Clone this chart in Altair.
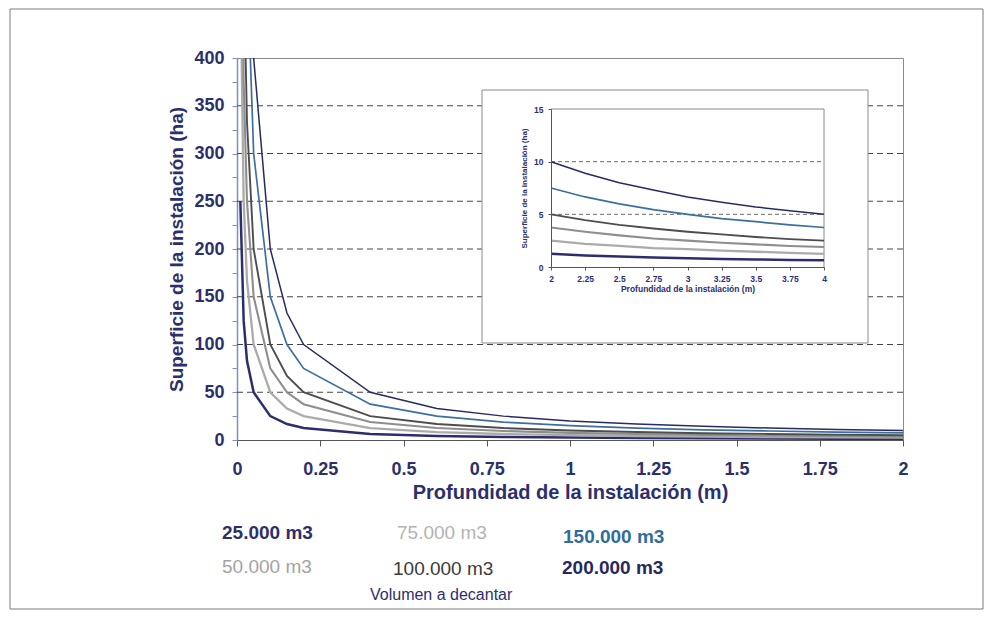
import altair as alt
import pandas as pd

FONT = "Liberation Sans"
NAVY = "#2c2f6e"

# ---------------- data ----------------
volumes = ["25.000 m3", "50.000 m3", "75.000 m3", "100.000 m3", "150.000 m3", "200.000 m3"]

depth_main = [0.01, 0.02, 0.03, 0.05, 0.1, 0.15, 0.2, 0.4, 0.6, 0.8, 1.0, 1.2, 1.4, 1.6, 1.8, 2.0]
area_main_25 = [250, 125, 83, 50, 25, 16.7, 12.5, 6.3, 4.2, 3.1, 2.5, 2.1, 1.8, 1.6, 1.4, 1.3]
area_main_50 = [500, 250, 167, 100, 50, 33, 25, 12.5, 8.3, 6.3, 5, 4.2, 3.6, 3.1, 2.8, 2.5]
area_main_75 = [750, 375, 250, 150, 75, 50, 37.5, 18.8, 12.5, 9.4, 7.5, 6.3, 5.4, 4.7, 4.2, 3.8]
area_main_100 = [1000, 500, 333, 200, 100, 67, 50, 25, 16.7, 12.5, 10, 8.3, 7.1, 6.3, 5.6, 5]
area_main_150 = [1500, 750, 500, 300, 150, 100, 75, 37.5, 25, 18.8, 15, 12.5, 10.7, 9.4, 8.3, 7.5]
area_main_200 = [2000, 1000, 667, 400, 200, 133, 100, 50, 33, 25, 20, 16.7, 14.3, 12.5, 11.1, 10]

depth_inset = [2, 2.25, 2.5, 2.75, 3, 3.25, 3.5, 3.75, 4]
area_inset_25 = [1.25, 1.1, 1.0, 0.9, 0.83, 0.77, 0.71, 0.67, 0.63]
area_inset_50 = [2.5, 2.2, 2.0, 1.8, 1.7, 1.55, 1.45, 1.35, 1.25]
area_inset_75 = [3.75, 3.35, 3.0, 2.7, 2.5, 2.3, 2.15, 2.0, 1.9]
area_inset_100 = [5.0, 4.45, 4.0, 3.65, 3.35, 3.1, 2.85, 2.65, 2.5]
area_inset_150 = [7.5, 6.65, 6.0, 5.45, 5.0, 4.6, 4.3, 4.0, 3.75]
area_inset_200 = [10.0, 8.9, 8.0, 7.3, 6.65, 6.15, 5.7, 5.35, 5.0]

main_grid = [50, 100, 150, 200, 250, 300, 350]
inset_grid = [5, 10]

x_ticks_main = [0, 0.25, 0.5, 0.75, 1, 1.25, 1.5, 1.75, 2]
y_ticks_main = list(range(0, 401, 25))
y_ticks_inset = [0, 5, 10, 15]

legend_title = "Volumen a decantar"
x_title = "Profundidad de la instalación (m)"
y_title = "Superficie de la instalación (ha)"

# ---------------- styles ----------------
line_colors = ["#2b2e6e", "#ababab", "#8e8e8e", "#4d4d4d", "#3b6fa0", "#282b63"]
line_widths = [2.5, 1.5, 1.5, 1.5, 2.4, 2.5]
legend_colors = ["#2c2f6b", "#a3a3a3", "#b3b3b3", "#3a3a3a", "#2f6d9e", "#27295e"]
legend_weights = ["bold", "normal", "normal", "normal", "bold", "bold"]
legend_pos = [(-15, 475), (-15, 509), (160, 475), (156, 511), (326, 479), (325, 510)]

main_series = [area_main_25, area_main_50, area_main_75, area_main_100, area_main_150, area_main_200]
inset_series = [area_inset_25, area_inset_50, area_inset_75, area_inset_100, area_inset_150, area_inset_200]

rows = []
for v, s in zip(volumes, main_series):
    for d, a in zip(depth_main, s):
        rows.append({"vol": v, "depth": d, "area": a})
df_main = pd.DataFrame(rows)

rows = []
for v, s in zip(volumes, inset_series):
    for d, a in zip(depth_inset, s):
        rows.append({"vol": v, "depth": d, "area": a})
df_inset = pd.DataFrame(rows)

W, H = 666, 382

color_scale = alt.Scale(domain=volumes, range=line_colors)
width_scale = alt.Scale(domain=volumes, range=line_widths)

x_main = alt.Scale(domain=[0, 2], nice=False, zero=False)
y_main = alt.Scale(domain=[0, 400], nice=False)

x_main_axis = alt.Axis(orient="bottom", values=x_ticks_main, labelExpr="'' + datum.value", grid=False,
                       labelFlush=False, labelOverlap=False,
                       labelFont=FONT, labelFontSize=18, labelFontWeight="bold", labelColor=NAVY,
                       titleFont=FONT, titleFontSize=20, titleFontWeight="bold", titleColor=NAVY,
                       labelPadding=14, titlePadding=4, tickSize=6, tickColor="#555",
                       domainColor="#555")
y_main_axis = alt.Axis(orient="left", values=y_ticks_main,
                       labelExpr="datum.value % 50 == 0 ? datum.label : ''",
                       grid=False, labelOverlap=False, labelFlush=False,
                       labelFont=FONT, labelFontSize=18, labelFontWeight="bold", labelColor=NAVY,
                       titleFont=FONT, titleFontSize=19, titleFontWeight="bold", titleColor=NAVY,
                       labelPadding=8, titlePadding=7, tickSize=5, tickColor="#7f8fc0",
                       domainColor="#7f8fc0", domainWidth=1.5)

# ---------------- main chart ----------------
outer_frame = alt.Chart(pd.DataFrame({"k": [0]})).mark_rect(
    fill=None, stroke="#7a7a7a", strokeWidth=1
).encode(x=alt.value(-227), x2=alt.value(746), y=alt.value(-49), y2=alt.value(551))

grid_rules = alt.Chart(pd.DataFrame({"area": main_grid})).mark_rule(
    color="#444444", strokeDash=[6, 4], strokeWidth=1
).encode(
    y=alt.Y("area:Q", scale=y_main, title=y_title, axis=y_main_axis),
    x=alt.value(0), x2=alt.value(W),
)

main_lines = alt.Chart(df_main).mark_line(clip=True).encode(
    x=alt.X("depth:Q", scale=x_main, title=x_title, axis=x_main_axis),
    y=alt.Y("area:Q", scale=y_main, title=y_title, axis=y_main_axis),
    color=alt.Color("vol:N", scale=color_scale, legend=None),
    strokeWidth=alt.StrokeWidth("vol:N", scale=width_scale, legend=None),
)

main_layer = alt.layer(outer_frame, grid_rules, main_lines)

# ---------------- inset ----------------
inset_bg = alt.Chart(pd.DataFrame({"k": [0]})).mark_rect(
    fill="white", stroke="#8a8a8a", strokeWidth=1
).encode(x=alt.value(245), x2=alt.value(631), y=alt.value(32), y2=alt.value(285))

x_in = alt.Scale(domain=[2, 4], range=[314, 587], nice=False, zero=False)
y_in = alt.Scale(domain=[0, 15], range=[209, 51], nice=False)

x_in_axis = alt.Axis(orient="bottom", offset=209 - H, values=depth_inset, labelExpr="'' + datum.value",
                     grid=False, labelFlush=False, labelOverlap=False, zindex=2,
                     labelFont=FONT, labelFontSize=8.5, labelFontWeight="bold", labelColor=NAVY,
                     titleFont=FONT, titleFontSize=8.5, titleFontWeight="bold", titleColor=NAVY,
                     labelPadding=4, titlePadding=2, tickSize=3, tickColor="#555",
                     domainColor="#555")
y_in_axis = alt.Axis(orient="left", offset=-314, values=y_ticks_inset,
                     grid=False, labelFlush=False, labelOverlap=False, zindex=2,
                     labelFont=FONT, labelFontSize=8.5, labelFontWeight="bold", labelColor=NAVY,
                     titleFont=FONT, titleFontSize=8, titleFontWeight="bold", titleColor=NAVY,
                     labelPadding=5, titlePadding=5, tickSize=3, tickColor="#555",
                     domainColor="#555")

X_IN = alt.X("depth:Q", scale=x_in, title=x_title, axis=x_in_axis)
Y_IN = alt.Y("area:Q", scale=y_in, title=y_title, axis=y_in_axis)

inset_grid_rules = alt.Chart(pd.DataFrame({"area": inset_grid, "depth": [2] * len(inset_grid),
                                           "depth2": [4] * len(inset_grid)})).mark_rule(
    color="#444444", strokeDash=[4, 3], strokeWidth=0.8
).encode(y=Y_IN, x=X_IN, x2="depth2:Q")

inset_top = alt.Chart(pd.DataFrame({"area": [15], "depth": [2], "depth2": [4]})).mark_rule(
    color="#8a8a8a", strokeWidth=1
).encode(y=Y_IN, x=X_IN, x2="depth2:Q")

inset_right = alt.Chart(pd.DataFrame({"depth": [4], "area": [0], "area2": [15]})).mark_rule(
    color="#8a8a8a", strokeWidth=1
).encode(x=X_IN, y=Y_IN, y2="area2:Q")

inset_lines = alt.Chart(df_inset).mark_line().encode(
    x=X_IN, y=Y_IN,
    color=alt.Color("vol:N", scale=color_scale, legend=None),
    strokeWidth=alt.StrokeWidth("vol:N", scale=width_scale, legend=None),
)

inset_layer = alt.layer(inset_grid_rules, inset_top, inset_right, inset_lines)

# ---------------- custom legend ----------------
legend_layers = []
for lab, col, wt, (px, py) in zip(volumes, legend_colors, legend_weights, legend_pos):
    legend_layers.append(
        alt.Chart(pd.DataFrame({"t": [lab]})).mark_text(
            align="left", baseline="middle", font=FONT, fontSize=19, fontWeight=wt, color=col
        ).encode(text="t:N", x=alt.value(px), y=alt.value(py))
    )
legend_layers.append(
    alt.Chart(pd.DataFrame({"t": [legend_title]})).mark_text(
        align="left", baseline="middle", font=FONT, fontSize=16, color=NAVY
    ).encode(text="t:N", x=alt.value(133), y=alt.value(537))
)

chart = alt.layer(main_layer, inset_bg, inset_layer, *legend_layers).resolve_scale(
    x="independent", y="independent", color="independent", strokeWidth="independent"
).properties(
    width=W, height=H,
    autosize=alt.AutoSizeParams(type="none"),
    padding={"left": 229, "top": 50, "right": 81, "bottom": 170},
    background="white",
).configure_view(stroke="#8a8a8a", strokeWidth=1)

chart.save("out.html", embed_options={"renderer": "svg", "actions": False})
